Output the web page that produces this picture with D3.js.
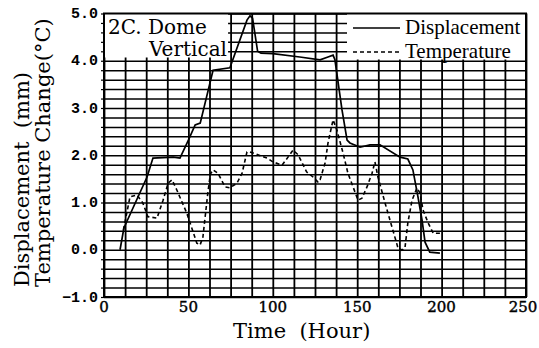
<!DOCTYPE html>
<html>
<head>
<meta charset="utf-8">
<script src="https://cdn.jsdelivr.net/npm/d3@7"></script>
<style>
  body { margin: 0; background: #fff; }
  .titulo-eixo { font-family: 'DejaVu Serif', serif; font-size: 21px; fill: #000; }
  .rotulo-y { font-family: 'Liberation Mono', monospace; font-weight: bold; font-size: 15px; fill: #000; }
  .rotulo-x { font-family: 'DejaVu Serif', serif; font-size: 15px; fill: #000; stroke: #000; stroke-width: 0.4; }
  .legenda { font-family: 'Liberation Serif', serif; font-size: 21px; fill: #000; }
  .caixa-titulo { font-family: 'DejaVu Serif', serif; font-size: 20px; fill: #000; }
</style>
</head>
<body>
<svg id="grafico"></svg>
<script>
// dados (hora, valor)
const horasDeslocamento = [9.5, 11.8, 25.5, 29, 41, 45, 50, 54, 57, 64.6, 74.6, 84.7, 86.5, 88, 91, 93, 100, 116, 128, 132.7, 135.7, 136.8, 141, 144, 145.7, 151.7, 157.6, 163.5, 175.4, 180, 183, 186, 188.4, 190.2, 193, 199];
const deslocamento      = [0.0, 0.46, 1.54, 1.94, 1.96, 1.94, 2.32, 2.64, 2.68, 3.80, 3.85, 4.86, 4.95, 4.9, 4.2, 4.16, 4.15, 4.08, 4.02, 4.08, 4.12, 4.02, 2.96, 2.32, 2.26, 2.17, 2.22, 2.22, 1.96, 1.92, 1.69, 1.12, 0.63, 0.16, -0.05, -0.07];

const horasTemperatura = [11.5, 15.4, 19.5, 23, 26, 31.4, 35, 38, 40.3, 43.2, 49, 52, 55, 56.9, 58.6, 61.5, 63, 64.6, 67.5, 71.7, 74.6, 78.8, 81.8, 84.7, 86.5, 91.2, 96.6, 100, 105.5, 109, 112, 115, 120, 123.8, 126.8, 128, 131, 132.7, 135.7, 138, 141.6, 144.5, 148.7, 150.5, 152.8, 155.8, 158.8, 160.5, 162.3, 166.5, 170.6, 174, 176.5, 178.3, 180, 182.5, 185.4, 187.2, 189, 192, 195, 200.8];
const temperatura      = [0.42, 1.12, 1.16, 0.99, 0.70, 0.67, 1.05, 1.41, 1.48, 1.26, 0.78, 0.46, 0.14, 0.10, 0.27, 1.2, 1.6, 1.69, 1.62, 1.33, 1.31, 1.41, 1.62, 2.07, 2.07, 2.01, 1.94, 1.86, 1.79, 1.96, 2.11, 2.01, 1.65, 1.54, 1.43, 1.48, 1.84, 2.26, 2.75, 2.53, 2.05, 1.62, 1.22, 1.05, 1.09, 1.33, 1.62, 1.86, 1.54, 0.99, 0.48, 0.06, -0.01, 0.04, 0.57, 1.05, 1.31, 1.20, 0.84, 0.57, 0.35, 0.35];

const ticksX = [0, 50, 100, 150, 200, 250];
const ticksY = [-1, 0, 1, 2, 3, 4, 5];
const legendas = ['Displacement', 'Temperature'];
const tituloQuadro = ['2C. Dome', 'Vertical'];

const largura = 539, altura = 348;
const margem = { esquerda: 104, direita: 13, superior: 13.5, inferior: 51 };
const larguraPlotagem = largura - margem.esquerda - margem.direita;
const alturaPlotagem = altura - margem.superior - margem.inferior;

const svg = d3.select('#grafico').attr('width', largura).attr('height', altura);
const plotagem = svg.append('g').attr('transform', `translate(${margem.esquerda}, ${margem.superior})`);

// escalas
const x = d3.scaleLinear().domain([0, 250]).range([0, larguraPlotagem]);
const y = d3.scaleLinear().domain([-1, 5]).range([alturaPlotagem, 0]);

// grade: verticais a cada 12.5 h, horizontais a cada 0.2
const gradeX = d3.range(0, 21).map(i => i * 12.5);
const gradeY = d3.range(-5, 26).map(i => i / 5);

plotagem.append('g')
  .attr('transform', `translate(0, ${alturaPlotagem})`)
  .call(d3.axisBottom(x).tickValues(gradeX).tickSize(-alturaPlotagem).tickFormat(''))
  .call(g => g.select('.domain').remove())
  .selectAll('line').attr('stroke', '#000').attr('stroke-width', 1.8);

plotagem.append('g')
  .call(d3.axisLeft(y).tickValues(gradeY).tickSize(-larguraPlotagem).tickFormat(''))
  .call(g => g.select('.domain').remove())
  .selectAll('line').attr('stroke', '#000').attr('stroke-width', 1.5);

// marcas curtas fora do eixo Y
plotagem.append('g')
  .call(d3.axisLeft(y).tickValues(gradeY).tickSize(3).tickFormat(''))
  .call(g => g.select('.domain').remove())
  .selectAll('line').attr('stroke', '#000').attr('stroke-width', 1.2);

// caixas brancas do título e da legenda por cima da grade
plotagem.append('rect').attr('x', 0).attr('y', 0).attr('width', x(73.5)).attr('height', 44).attr('fill', '#fff');
plotagem.append('rect').attr('x', 243).attr('y', 0).attr('width', larguraPlotagem - 243).attr('height', 46).attr('fill', '#fff');

// moldura
plotagem.append('rect')
  .attr('width', larguraPlotagem).attr('height', alturaPlotagem)
  .attr('fill', 'none').attr('stroke', '#000').attr('stroke-width', 2);

// rótulos dos eixos
plotagem.append('g').selectAll('text').data(ticksY).join('text')
  .classed('rotulo-y', true)
  .attr('x', -6).attr('y', d => y(d)).attr('dy', '0.3em')
  .attr('text-anchor', 'end')
  .text(d => d3.format('.1f')(d).replace('-', '\u2212'));

// o último rótulo fica encostado na borda direita
plotagem.append('g').selectAll('text').data(ticksX).join('text')
  .classed('rotulo-x', true)
  .attr('x', d => Math.min(x(d), larguraPlotagem - 3)).attr('y', alturaPlotagem + 15)
  .attr('text-anchor', 'middle')
  .text(d => d);

// títulos dos eixos
svg.append('text').classed('titulo-eixo', true)
  .attr('transform', 'translate(29, 287) rotate(-90)')
  .attr('xml:space', 'preserve')
  .text('Displacement  (mm)');
svg.append('text').classed('titulo-eixo', true)
  .attr('transform', 'translate(50, 287) rotate(-90)')
  .text('Temperature Change(\u00b0C)');
svg.append('text').classed('titulo-eixo', true)
  .attr('x', 233).attr('y', 338)
  .attr('xml:space', 'preserve')
  .text('Time  (Hour)');

// linhas das séries
const linha = d3.line().x(d => x(d[0])).y(d => y(d[1]));
const dadosDeslocamento = horasDeslocamento.map((h, i) => [h, deslocamento[i]]);
const dadosTemperatura = horasTemperatura.map((h, i) => [h, temperatura[i]]);

plotagem.append('path').datum(dadosTemperatura)
  .attr('d', linha).attr('fill', 'none')
  .attr('stroke', '#000').attr('stroke-width', 1.6).attr('stroke-dasharray', '4,3');
plotagem.append('path').datum(dadosDeslocamento)
  .attr('d', linha).attr('fill', 'none')
  .attr('stroke', '#000').attr('stroke-width', 1.7);

// título dentro do quadro
plotagem.append('text').classed('caixa-titulo', true).attr('x', 4).attr('y', 20).text(tituloQuadro[0]);
plotagem.append('text').classed('caixa-titulo', true).attr('x', 45).attr('y', 42).text(tituloQuadro[1]);

// legenda
const itens = plotagem.append('g').selectAll('g').data(legendas).join('g')
  .attr('transform', (d, i) => `translate(249, ${14.5 + i * 24})`);
itens.append('line')
  .attr('x1', 0).attr('x2', 47).attr('y1', 0).attr('y2', 0)
  .attr('stroke', '#000').attr('stroke-width', 1.4)
  .attr('stroke-dasharray', (d, i) => i ? '4,3' : null);
itens.append('text').classed('legenda', true)
  .attr('x', 52).attr('y', 6)
  .text(d => d);
</script>
</body>
</html>
